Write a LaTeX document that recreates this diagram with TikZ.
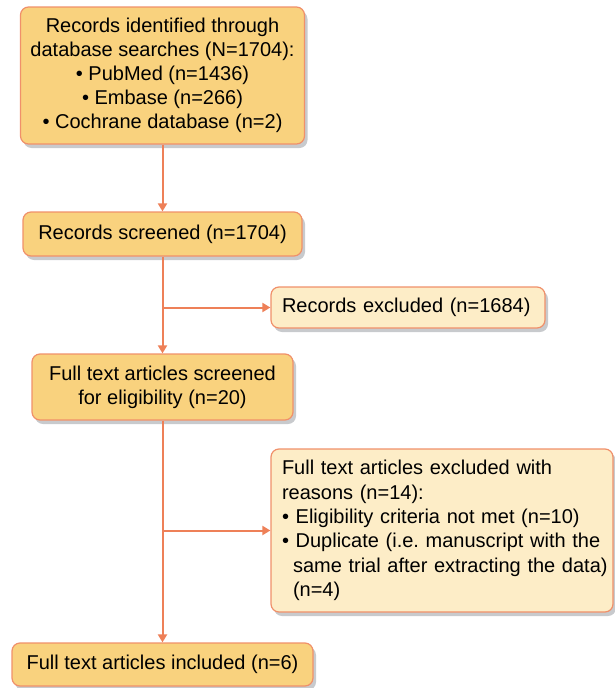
\documentclass[tikz,border=0pt]{standalone}
\usepackage{fontspec}
\setmainfont{Liberation Sans}
\usetikzlibrary{arrows.meta,shadows}
\definecolor{boxfill}{HTML}{F9D27E}
\definecolor{lightfill}{HTML}{FDEDC7}
\definecolor{edgec}{HTML}{F0906A}
\definecolor{arrowc}{HTML}{EE8058}
\definecolor{shadowc}{HTML}{C8CACD}
\frenchspacing
\begin{document}
\begin{tikzpicture}[x=1pt,y=-1pt,
  box/.style={draw=edgec, line width=1.2pt, rounded corners=8pt, inner sep=0pt,
    font=\fontsize{20}{24}\selectfont,
    drop shadow={shadow xshift=3pt, shadow yshift=-4pt, fill=shadowc, opacity=1}},
  mainbox/.style={box, fill=boxfill, align=center},
  sidebox/.style={box, fill=lightfill, align=left},
  conn/.style={draw=arrowc, line width=2pt},
  arr/.style={conn, -{Triangle[width=9pt,length=8pt]}}]
\useasboundingbox (0,0) rectangle (614,688);
\node[mainbox, minimum width=284pt, minimum height=137pt] (b1) at (162.5,75.5)
  {Records identified through\\database searches (N=1704):\\• PubMed (n=1436)\\• Embase (n=266)\\• Cochrane database (n=2)};
\node[mainbox, minimum width=279pt, minimum height=44pt] (b2) at (162.5,234)
  {Records screened (n=1704)};
\node[sidebox, inner xsep=11pt, text width=252pt, minimum height=41pt] (e1) at (408,307.5)
  {Records excluded (n=1684)};
\node[mainbox, minimum width=261pt, minimum height=66pt] (b3) at (162.5,387)
  {Full text articles screened\\for eligibility (n=20)};
\node[sidebox, inner xsep=11pt, text width=320pt, minimum height=163pt,
  font=\fontsize{20}{24.3}\selectfont] (e2) at (442,530.5)
  {\mbox{Full text articles excluded with}\\
   \mbox{reasons (n=14):}\\
   \mbox{• Eligibility criteria not met (n=10)}\\
   \mbox{• Duplicate (i.e. manuscript with the}\\
   \mbox{\hspace*{11pt}same trial after extracting the data)}\\
   \mbox{\hspace*{11pt}(n=4)}};
\node[mainbox, minimum width=301pt, minimum height=43pt] (b4) at (162.5,664.5)
  {Full text articles included (n=6)};
\draw[arr] (b1.south) -- (b2.north);
\coordinate (j1) at (b2.south |- e1.west);
\draw[arr] (b2.south) -- (b3.north);
\draw[arr] (j1) -- (e1.west);
\coordinate (j2) at (b3.south |- e2.west);
\draw[arr] (b3.south) -- (b4.north);
\draw[arr] (j2) -- (e2.west);
\end{tikzpicture}
\end{document}
